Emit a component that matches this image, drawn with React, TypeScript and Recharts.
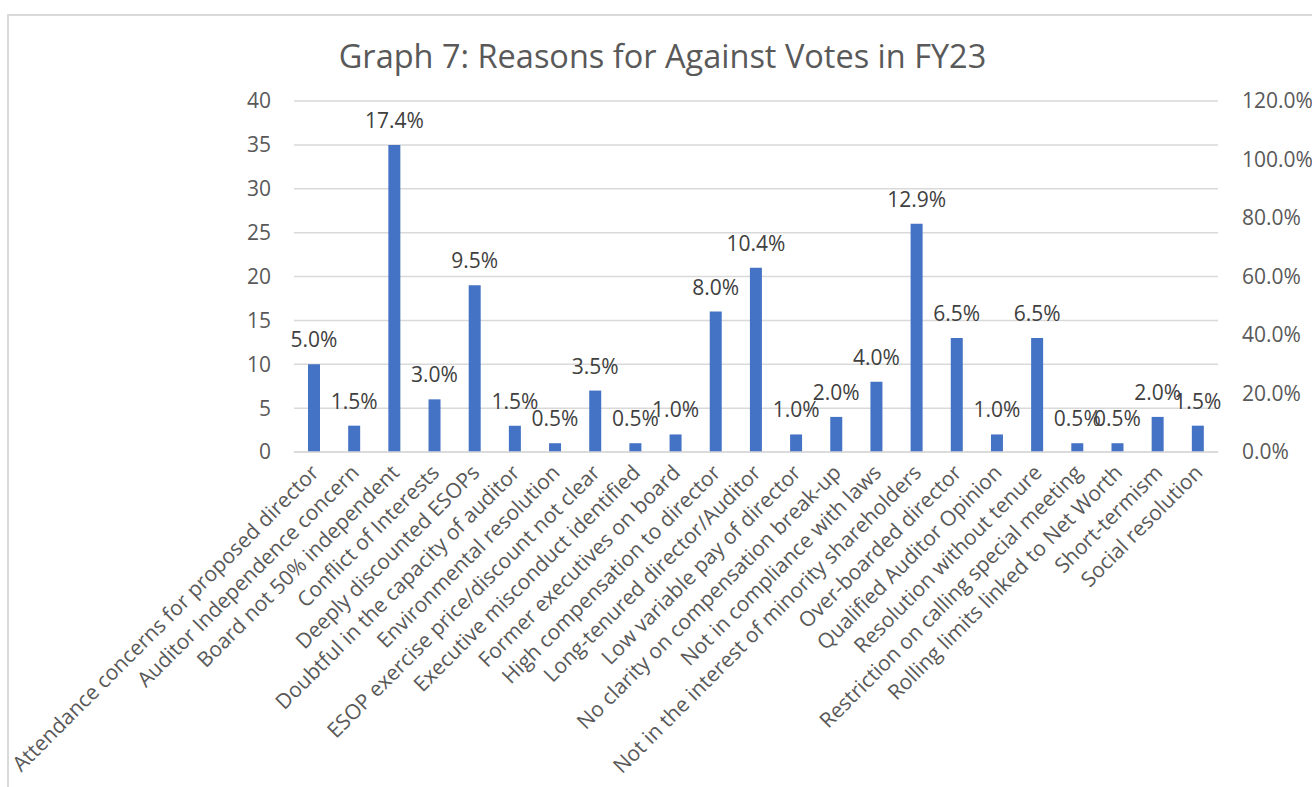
import { ComposedChart, Bar, Line, XAxis, YAxis, CartesianGrid, LabelList } from 'recharts'

const reasons = [
  'Attendance concerns for proposed director',
  'Auditor Independence concern',
  'Board not 50% independent',
  'Conflict of Interests',
  'Deeply discounted ESOPs',
  'Doubtful in the capacity of auditor',
  'Environmental resolution',
  'ESOP exercise price/discount not clear',
  'Executive misconduct identified',
  'Former executives on board',
  'High compensation to director',
  'Long-tenured director/Auditor',
  'Low variable pay of director',
  'No clarity on compensation break-up',
  'Not in compliance with laws',
  'Not in the interest of minority shareholders',
  'Over-boarded director',
  'Qualified Auditor Opinion',
  'Resolution without tenure',
  'Restriction on calling special meeting',
  'Rolling limits linked to Net Worth',
  'Short-termism',
  'Social resolution',
]

const votes = [10, 3, 35, 6, 19, 3, 1, 7, 1, 2, 16, 21, 2, 4, 8, 26, 13, 2, 13, 1, 1, 4, 3]

const shares = [5.0, 1.5, 17.4, 3.0, 9.5, 1.5, 0.5, 3.5, 0.5, 1.0, 8.0, 10.4, 1.0, 2.0, 4.0, 12.9, 6.5, 1.0, 6.5, 0.5, 0.5, 2.0, 1.5]

const leftTicks = [0, 5, 10, 15, 20, 25, 30, 35, 40]
const rightTicks = [0, 20, 40, 60, 80, 100, 120]

const data = reasons.map((name, i) => ({ name, votes: votes[i], share: shares[i] }))

const FONT = '"Open Sans", sans-serif'
const GREY = '#595959'

function CategoryTick(props: any) {
  const { x, y, payload } = props
  return (
    <g transform={`translate(${x + 6},${y + 14})`}>
      <text
        transform="rotate(-45)"
        textAnchor="end"
        fill={GREY}
        fontSize={21}
        fontFamily={FONT}
      >
        {payload.value}
      </text>
    </g>
  )
}

export default function App() {
  return (
    <div
      style={{
        position: 'absolute',
        left: 0,
        top: 0,
        width: 1312,
        height: 787,
        overflow: 'hidden',
        background: '#fff',
      }}
    >
      <div
        style={{
          position: 'absolute',
          left: 7,
          top: 14,
          width: 1400,
          height: 900,
          border: '2px solid #d9d9d9',
        }}
      />
      <div
        style={{
          position: 'absolute',
          left: 0,
          top: 36,
          width: 1325,
          textAlign: 'center',
          fontFamily: FONT,
          fontSize: 32.5,
          color: GREY,
          lineHeight: '40px',
        }}
      >
        Graph 7: Reasons for Against Votes in FY23
      </div>
      <div style={{ position: 'absolute', left: 0, top: 0 }}>
        <ComposedChart
          width={1312}
          height={787}
          data={data}
          margin={{ top: 101, right: 14, bottom: 0, left: 234 }}
          barCategoryGap={0}
        >
          <CartesianGrid
            yAxisId="left"
            vertical={false}
            stroke="#d9d9d9"
            strokeWidth={1.5}
          />
          <XAxis
            dataKey="name"
            interval={0}
            height={335}
            tickLine={false}
            axisLine={{ stroke: '#d9d9d9', strokeWidth: 1.5 }}
            tick={<CategoryTick />}
          />
          <YAxis
            yAxisId="left"
            width={60}
            domain={[0, 40]}
            ticks={leftTicks}
            axisLine={false}
            tickLine={false}
            tickSize={0}
            tickMargin={23}
            tick={{ fill: GREY, fontSize: 21, fontFamily: FONT }}
          />
          <YAxis
            yAxisId="right"
            orientation="right"
            width={80}
            domain={[0, 120]}
            ticks={rightTicks}
            axisLine={false}
            tickLine={false}
            tickSize={0}
            tickMargin={24}
            tickFormatter={(v: number) => `${v.toFixed(1)}%`}
            tick={{ fill: GREY, fontSize: 21, fontFamily: FONT, textAnchor: 'start' }}
          />
          <Bar
            yAxisId="left"
            dataKey="votes"
            fill="#4472C4"
            barSize={12}
            isAnimationActive={false}
          >
            <LabelList
              dataKey="share"
              position="top"
              offset={17}
              formatter={(v: any) => `${Number(v).toFixed(1)}%`}
              fill="#404040"
              fontSize={21}
              fontFamily={FONT}
            />
          </Bar>
          <Line
            yAxisId="right"
            dataKey="share"
            stroke="none"
            dot={false}
            activeDot={false}
            legendType="none"
            isAnimationActive={false}
          />
        </ComposedChart>
      </div>
    </div>
  )
}
